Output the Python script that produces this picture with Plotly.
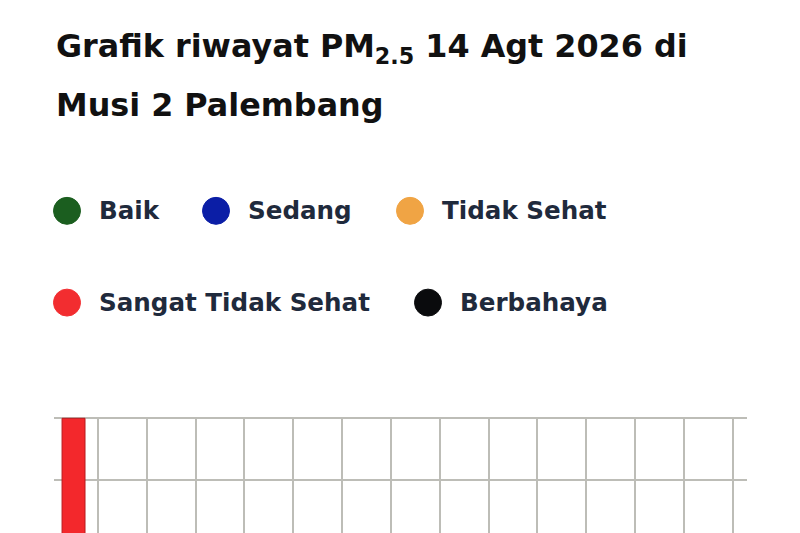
import plotly.graph_objects as go

# data
hours = [0]
pm25 = [200]
bar_colors = ["#f3282c"]

categories = ["Baik", "Sedang", "Tidak Sehat", "Sangat Tidak Sehat", "Berbahaya"]
category_colors = ["#1b5e1f", "#0b1ea6", "#f0a444", "#f22d30", "#0a0b0d"]

# the page body adds an 8px margin, so the figure is drawn 8px smaller
OFF = 8
PAD_TOP = 1.3  # keeps the top gridline off the plot edge so it gets drawn
W, H = 800 - OFF, 533 - OFF
L, R, T, B = 54 - OFF, 800 - 747, 418 - OFF - PAD_TOP, 0
PW, PH = W - L - R, H - T - B


def px_x(x):
    return (x - OFF - L) / PW


def px_y(y):
    return (H - B - (y - OFF)) / PH


fig = go.Figure()
fig.add_trace(go.Bar(
    x=hours, y=pm25, width=0.47,
    marker=dict(color=bar_colors, line=dict(color="#b81a1d", width=1)),
    showlegend=False,
))

unit = 50 / 62  # value per pixel
top = 200 + PAD_TOP * unit
fig.update_xaxes(
    range=[-0.4, 13.79],
    tickvals=[h + 0.5 for h in range(14)],
    showticklabels=False, ticks="",
    showgrid=True, gridcolor="#bdbdb7", gridwidth=1.7,
    zeroline=False, showline=False,
)
fig.update_yaxes(
    range=[top - PH * unit, top],
    dtick=50, tick0=0,
    showticklabels=False, ticks="",
    showgrid=True, gridcolor="#bdbdb7", gridwidth=1.7,
    zeroline=False, showline=False,
)

FONT = "DejaVu Sans"
font_title = dict(family=FONT, size=31.8, color="#111111", weight=700)
annotations = [
    dict(text="Grafik riwayat PM<sub>2.5</sub> 14 Agt 2026 di", x=px_x(54), y=px_y(47)),
    dict(text="Musi 2 Palembang", x=px_x(54), y=px_y(103)),
]
for a in annotations:
    a.update(xref="paper", yref="paper", xanchor="left", yanchor="middle",
             showarrow=False, font=font_title)

# legend layout (pixel centres of the markers)
legend_pos = [(67, 210), (216, 210), (410, 210), (67, 302), (428, 302)]
shapes = []
for name, col, (cx, cy) in zip(categories, category_colors, legend_pos):
    r = 13.5
    shapes.append(dict(type="circle", xref="paper", yref="paper",
                       x0=px_x(cx - r), x1=px_x(cx + r), y0=px_y(cy + r), y1=px_y(cy - r),
                       fillcolor=col, line=dict(color=col, width=1)))
    annotations.append(dict(text=name, x=px_x(cx + 30), y=px_y(cy), xref="paper", yref="paper",
                            xanchor="left", yanchor="middle", showarrow=False,
                            font=dict(family=FONT, size=24.6, color="#1f2a3c", weight=700)))

fig.update_layout(
    width=W, height=H,
    margin=dict(l=L, r=R, t=T, b=B, pad=0),
    paper_bgcolor="white", plot_bgcolor="white",
    annotations=annotations, shapes=shapes,
    showlegend=False,
)

fig.write_html("out.html")
